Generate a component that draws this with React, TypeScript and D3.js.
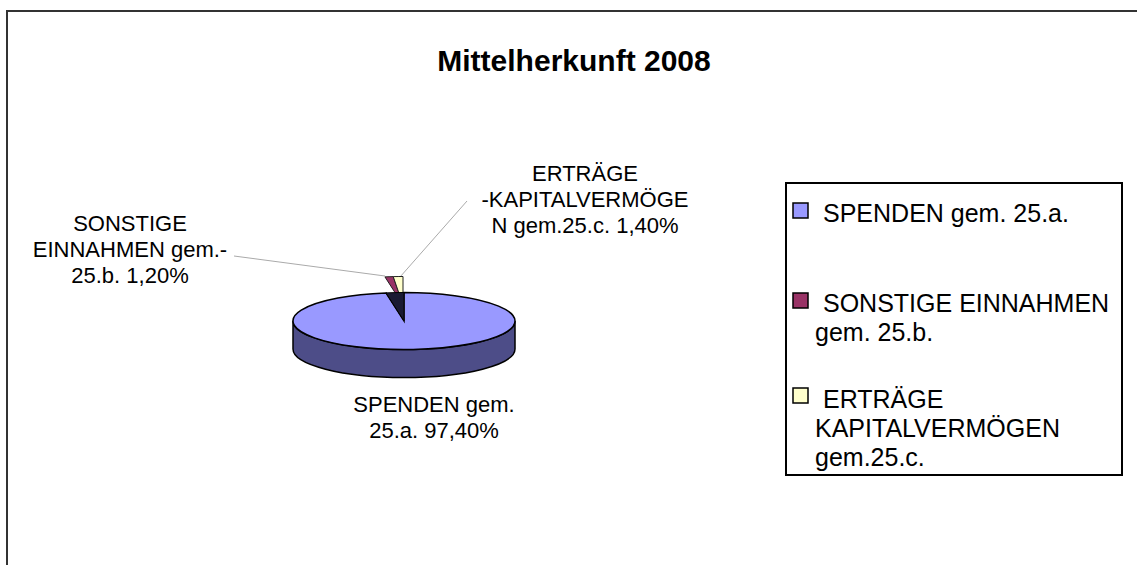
import React from "react";
import * as d3 from "d3";

const categories = ["SPENDEN gem. 25.a.", "SONSTIGE EINNAHMEN gem. 25.b.", "ERTRÄGE KAPITALVERMÖGEN gem.25.c."];
const values = [97.4, 1.2, 1.4];
const colors = ["#9999FF", "#993366", "#FFFFCC"];
const sideColors = ["#4D4D88", "#4d1a33", "#80805f"];
const dataLabelLines = [
  ["SPENDEN gem.", "25.a. 97,40%"],
  ["SONSTIGE", "EINNAHMEN gem.-", "25.b. 1,20%"],
  ["ERTRÄGE", "-KAPITALVERMÖGE", "N gem.25.c. 1,40%"],
];
const legendLines = [
  ["SPENDEN gem. 25.a."],
  ["SONSTIGE EINNAHMEN", "gem. 25.b."],
  ["ERTRÄGE", "KAPITALVERMÖGEN", "gem.25.c."],
];
const title = "Mittelherkunft 2008";

const W = 1137, H = 565;
const FONT = "'Liberation Sans', Arial, sans-serif";

export default function App() {
  const cx = 404, cy = 321, rx = 111, ry = 28.5, depth = 28;
  const pie = d3.pie<number>().sort(null).value((d) => d);
  const arcs = pie(values);
  const pt = (a: number, ox = 0, oy = 0) => [cx + ox + rx * Math.sin(a), cy + oy - ry * Math.cos(a)];
  const slicePath = (s: number, e: number, ox = 0, oy = 0) => {
    const p0 = pt(s, ox, oy), p1 = pt(e, ox, oy);
    const large = e - s > Math.PI ? 1 : 0;
    return `M${cx + ox},${cy + oy}L${p0[0]},${p0[1]}A${rx},${ry} 0 ${large} 1 ${p1[0]},${p1[1]}Z`;
  };
  const sidePath = `M${cx - rx},${cy}A${rx},${ry} 0 0 0 ${cx + rx},${cy}L${cx + rx},${cy + depth}A${rx},${ry} 0 0 1 ${cx - rx},${cy + depth}Z`;
  const explodeX = -1, explodeY = -16;
  const small = arcs.slice(1);
  const holeStart = small[0].startAngle, holeEnd = small[small.length - 1].endAngle;

  const dataLabelPos = [
    { x: 434, y: 412 },
    { x: 130, y: 231 },
    { x: 585, y: 181 },
  ];
  const lineH = 26;
  const leaders = [
    null,
    [[234, 256], [385, 276]],
    [[467, 201], [400, 277]],
  ];
  const legendItems = [
    { sy: 203, lines: [{ x: 823, y: 222 }] },
    { sy: 293, lines: [{ x: 823, y: 312 }, { x: 815, y: 341 }] },
    { sy: 388, lines: [{ x: 823, y: 408 }, { x: 815, y: 437 }, { x: 815, y: 466 }] },
  ];

  return (
    <svg width={W} height={H} style={{ position: "absolute", left: 0, top: 0, background: "#fff" }} fontFamily={FONT}>
      <rect x={0} y={0} width={W} height={H} fill="#fff" />
      {/* outer frame */}
      <path d={`M7,${H + 5}L7,11L${W + 5},11`} fill="none" stroke="#333" strokeWidth={2} />
      <text x={574} y={71} textAnchor="middle" fontSize={30} fontWeight="bold" fill="#000">{title}</text>

      {/* leader lines */}
      {leaders.map((l, i) => l && (
        <line key={i} x1={l[0][0]} y1={l[0][1]} x2={l[1][0]} y2={l[1][1]} stroke="#aaa" strokeWidth={1} />
      ))}

      {/* exploded small slices */}
      {small.map((a, i) => (
        <path key={i} d={slicePath(a.startAngle, a.endAngle, explodeX, explodeY)} fill={colors[i + 1]} stroke="#222" strokeWidth={1} />
      ))}

      {/* main slice side */}
      <path d={sidePath} fill={sideColors[0]} stroke="#000" strokeWidth={1.5} />
      {/* main slice top */}
      <path d={slicePath(arcs[0].startAngle, arcs[0].endAngle)} fill={colors[0]} stroke="#000" strokeWidth={1.5} />
      {/* hole left by exploded slices */}
      <path d={slicePath(holeStart, holeEnd)} fill="#1a1a33" stroke="#000" strokeWidth={1} />

      {/* data labels */}
      {dataLabelLines.map((lines, i) => (
        <text key={i} textAnchor="middle" fontSize={22} fill="#000">
          {lines.map((t, j) => (
            <tspan key={j} x={dataLabelPos[i].x} y={dataLabelPos[i].y + j * lineH}>{t}</tspan>
          ))}
        </text>
      ))}

      {/* legend */}
      <rect x={786} y={183} width={336} height={292} fill="#fff" stroke="#000" strokeWidth={2} />
      {legendItems.map((it, i) => (
        <g key={i}>
          <rect x={793} y={it.sy} width={15} height={15} fill={colors[i]} stroke="#000" strokeWidth={1.5} />
          <text fontSize={25} fill="#000">
            {legendLines[i].map((t, j) => (
              <tspan key={j} x={it.lines[j].x} y={it.lines[j].y}>{t}</tspan>
            ))}
          </text>
        </g>
      ))}
    </svg>
  );
}
